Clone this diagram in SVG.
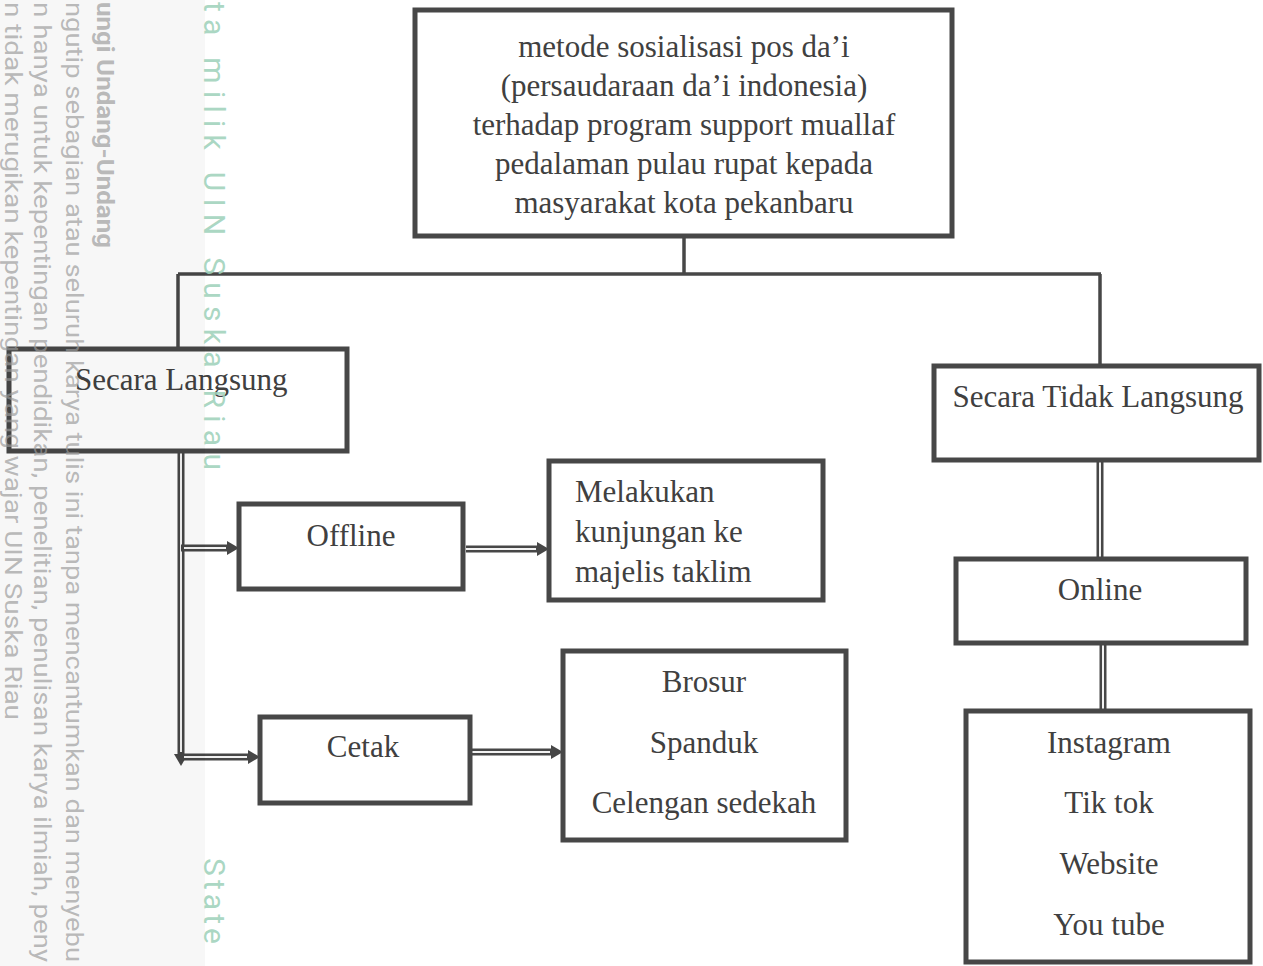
<svg xmlns="http://www.w3.org/2000/svg" width="1263" height="966" viewBox="0 0 1263 966">
<style>
.box{fill:#ffffff;stroke:#474747;stroke-width:5}
.t{font-family:"Liberation Serif","Times New Roman",serif;fill:#404040;font-size:31px}
.c{text-anchor:middle}
.ln{fill:none;stroke:#474747;stroke-width:3.5}
.dbl{fill:none;stroke:#474747;stroke-width:7}
.dbli{fill:none;stroke:#f2f2f2;stroke-width:2}
.wm{font-family:Roboto,"Liberation Sans",sans-serif;fill:#9a9a9a;fill-opacity:0.68;font-size:23px}
.wmg{font-family:Roboto,"Liberation Sans",sans-serif;fill:#9fd2bb;fill-opacity:0.9;font-size:30px}
</style>
<defs>
<marker id="ah" markerUnits="userSpaceOnUse" markerWidth="12" markerHeight="14" refX="0" refY="7" orient="auto" viewBox="0 0 12 14">
<path d="M0,0 L12,7 L0,14 z" fill="#474747"/>
</marker>
</defs>
<rect width="1263" height="966" fill="#ffffff"/>
<g id="connectors">
<path class="ln" d="M684,236 V274"/>
<path class="ln" d="M178,274 H1101"/>
<path class="ln" d="M178,274 V349"/>
<path class="ln" d="M1100,274 V366"/>
<path class="dbl" d="M181,452 V754" marker-end="url(#ah)"/>
<path class="dbli" d="M181,452 V752"/>
<path class="dbl" d="M181,548 H227" marker-end="url(#ah)"/>
<path class="dbli" d="M184,548 H226"/>
<path class="dbl" d="M181,757 H248" marker-end="url(#ah)"/>
<path class="dbli" d="M184,757 H247"/>
<path class="dbl" d="M466,549 H537" marker-end="url(#ah)"/>
<path class="dbli" d="M466,549 H536"/>
<path class="dbl" d="M472,752 H551" marker-end="url(#ah)"/>
<path class="dbli" d="M472,752 H550"/>
<path class="dbl" d="M1100,461 V559"/>
<path class="dbli" d="M1100,461 V559"/>
<path class="dbl" d="M1103,644 V711"/>
<path class="dbli" d="M1103,644 V711"/>
</g>
<g id="node-top">
<rect class="box" x="415" y="10" width="537" height="226"/>
<text class="t c" x="684" y="57" font-size="33">metode sosialisasi pos da’i</text>
<text class="t c" x="684" y="96" font-size="33">(persaudaraan da’i indonesia)</text>
<text class="t c" x="684" y="135" font-size="33">terhadap program support muallaf</text>
<text class="t c" x="684" y="174" font-size="33">pedalaman pulau rupat kepada</text>
<text class="t c" x="684" y="213" font-size="33">masyarakat kota pekanbaru</text>
</g>
<g id="node-langsung">
<rect class="box" x="9" y="349" width="338" height="102"/>
<text class="t" x="75" y="390" font-size="30">Secara Langsung</text>
</g>
<g id="node-tidak-langsung">
<rect class="box" x="934" y="366" width="325" height="94"/>
<text class="t c" x="1098" y="407" font-size="26">Secara Tidak Langsung</text>
</g>
<g id="node-offline">
<rect class="box" x="239" y="504" width="224" height="85"/>
<text class="t c" x="351" y="546">Offline</text>
</g>
<g id="node-kunjungan">
<rect class="box" x="549" y="461" width="274" height="139"/>
<text class="t" x="575" y="502">Melakukan</text>
<text class="t" x="575" y="542">kunjungan ke</text>
<text class="t" x="575" y="582">majelis taklim</text>
</g>
<g id="node-cetak">
<rect class="box" x="260" y="717" width="210" height="86"/>
<text class="t c" x="363" y="757" font-size="27">Cetak</text>
</g>
<g id="node-cetak-items">
<rect class="box" x="563" y="651" width="283" height="189"/>
<text class="t c" x="704" y="692" font-size="31.5">Brosur</text>
<text class="t c" x="704" y="753" font-size="31.5">Spanduk</text>
<text class="t c" x="704" y="813" font-size="31.5">Celengan sedekah</text>
</g>
<g id="node-online">
<rect class="box" x="956" y="559" width="290" height="84"/>
<text class="t c" x="1100" y="600">Online</text>
</g>
<g id="node-online-items">
<rect class="box" x="966" y="711" width="284" height="251"/>
<text class="t c" x="1109" y="753">Instagram</text>
<text class="t c" x="1109" y="813">Tik tok</text>
<text class="t c" x="1109" y="874">Website</text>
<text class="t c" x="1109" y="935">You tube</text>
</g>
<g id="watermark">
<rect x="0" y="0" width="205" height="966" fill="#000000" fill-opacity="0.03"/>
<text class="wm" transform="translate(5,2) rotate(90)" textLength="718" lengthAdjust="spacingAndGlyphs">n tidak merugikan kepentingan yang wajar UIN Suska Riau</text>
<text class="wm" transform="translate(34,2) rotate(90)" textLength="960" lengthAdjust="spacingAndGlyphs">n hanya untuk kepentingan pendidikan, penelitian, penulisan karya ilmiah, peny</text>
<text class="wm" transform="translate(66,2) rotate(90)" textLength="960" lengthAdjust="spacingAndGlyphs">ngutip sebagian atau seluruh karya tulis ini tanpa mencantumkan dan menyebu</text>
<text class="wm" transform="translate(97,2) rotate(90)" textLength="246" lengthAdjust="spacingAndGlyphs" font-weight="bold">ungi Undang-Undang</text>
<text class="wmg" transform="translate(204,2) rotate(90)" textLength="468" lengthAdjust="spacing">ta milik UIN Suska Riau</text>
<text class="wmg" transform="translate(204,858) rotate(90)" textLength="86" lengthAdjust="spacing">State</text>
</g>
</svg>
